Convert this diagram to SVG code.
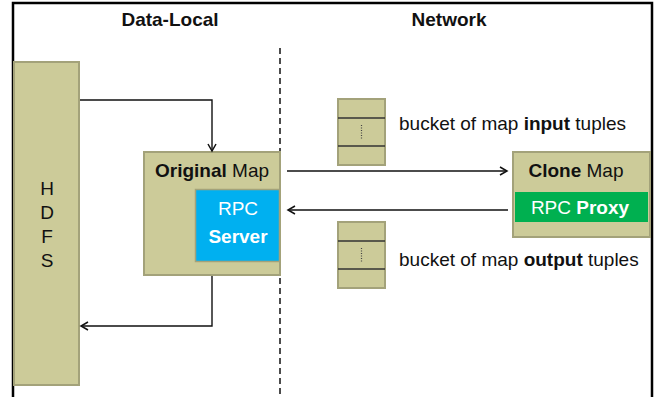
<svg xmlns="http://www.w3.org/2000/svg" width="654" height="397" viewBox="0 0 654 397">
<defs>
<style>
.t{font-family:"Liberation Sans",Arial,sans-serif;font-size:19px;fill:#111}
.b{font-weight:bold}
.w{fill:#fff}
.box{fill:#cccb99;stroke:#a3a27a;stroke-width:2}
.ln{stroke:#111;stroke-width:1.4;fill:none}
.sep{stroke:#333;stroke-width:1.3}
.dots{stroke:#444;stroke-width:1.2;stroke-dasharray:1 1.5}
</style>
<marker id="ah" markerWidth="10" markerHeight="10" refX="8" refY="5" orient="auto" markerUnits="userSpaceOnUse">
<path d="M1,1 L8,5 L1,9" fill="none" stroke="#111" stroke-width="1.5"/>
</marker>
</defs>
<rect width="654" height="397" fill="#fff"/>
<path d="M13,397 V3 H652 V397" fill="none" stroke="#000" stroke-width="2.5"/>
<text class="t b" x="170" y="26" text-anchor="middle">Data-Local</text>
<text class="t b" x="449" y="26" text-anchor="middle">Network</text>
<line x1="280" y1="48" x2="280" y2="397" stroke="#111" stroke-width="1.5" stroke-dasharray="6 4"/>
<g id="hdfs">
<rect class="box" x="14" y="62" width="65" height="323"/>
<text class="t" x="47" y="195" text-anchor="middle">H</text>
<text class="t" x="47" y="219" text-anchor="middle">D</text>
<text class="t" x="47" y="243" text-anchor="middle">F</text>
<text class="t" x="47" y="267" text-anchor="middle">S</text>
</g>
<g id="original-map">
<rect class="box" x="144" y="152" width="136" height="123"/>
<text class="t" x="155" y="177"><tspan class="b">Original</tspan> Map</text>
</g>
<g id="rpc-server">
<rect x="195.5" y="189.5" width="84" height="72" fill="#00b0f0" stroke="#a3a27a" stroke-width="1.5"/>
<text class="t w" x="238" y="215" text-anchor="middle">RPC</text>
<text class="t w b" x="238" y="243" text-anchor="middle">Server</text>
</g>
<g id="clone-map">
<rect class="box" x="513" y="152" width="137" height="85"/>
<text class="t" x="576" y="177" text-anchor="middle"><tspan class="b">Clone</tspan> Map</text>
</g>
<g id="rpc-proxy">
<rect x="515" y="192" width="133" height="30" fill="#00b050"/>
<text class="t w" x="580" y="214" text-anchor="middle">RPC <tspan class="b">Proxy</tspan></text>
</g>
<g id="bucket-input">
<rect class="box" x="338" y="99" width="47" height="66"/>
<line class="sep" x1="338" y1="118" x2="385" y2="118"/>
<line class="sep" x1="338" y1="146" x2="385" y2="146"/>
<line class="dots" x1="361.5" y1="125" x2="361.5" y2="140"/>
<text class="t" x="399" y="130">bucket of map <tspan class="b">input</tspan> tuples</text>
</g>
<g id="bucket-output">
<rect class="box" x="338" y="222" width="47" height="66"/>
<line class="sep" x1="338" y1="241" x2="385" y2="241"/>
<line class="sep" x1="338" y1="269" x2="385" y2="269"/>
<line class="dots" x1="361.5" y1="248" x2="361.5" y2="263"/>
<text class="t" x="399" y="266">bucket of map <tspan class="b">output</tspan> tuples</text>
</g>
<g id="connectors">
<path class="ln" d="M80,100 H212 V151" marker-end="url(#ah)"/>
<path class="ln" d="M212,276 V326 H81" marker-end="url(#ah)"/>
<path class="ln" d="M287,171 H507" marker-end="url(#ah)"/>
<path class="ln" d="M508,210 H288" marker-end="url(#ah)"/>
</g>
</svg>
